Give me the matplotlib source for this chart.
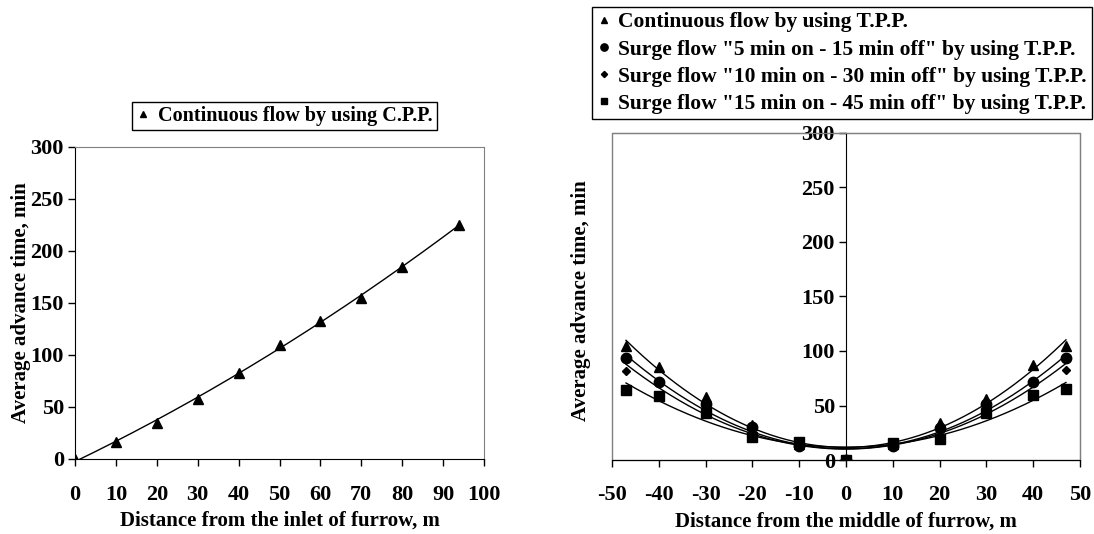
import numpy as np
import matplotlib
matplotlib.use("Agg")
import matplotlib.pyplot as plt
from matplotlib.patches import Rectangle
from matplotlib.lines import Line2D

plt.rcParams['font.family'] = ['Liberation Serif', 'DejaVu Serif']
plt.rcParams['font.weight'] = 'bold'
plt.rcParams['axes.unicode_minus'] = False

# ---- data: left chart (continuous flow, C.P.P.) ----
left_x = [0, 10, 20, 30, 40, 50, 60, 70, 80, 94]
left_y = [0, 16, 34.5, 58, 83, 110, 133, 155, 185, 225]
left_label = "Continuous flow by using C.P.P."

# ---- data: right chart (T.P.P.) ----
right_x = [-47, -40, -30, -20, -10, 0, 10, 20, 30, 40, 47]
cont_y = [105, 85, 58, 32, 15, 0, 15, 33.5, 56, 87, 105]
surge5_y = [93.5, 72, 51, 30.5, 12.5, 0, 12.5, 29.5, 51.5, 72, 93.5]
surge10_y = [82, 72, 44, 28, 12.5, 0, 12.5, 27, 46, 72, 83]
surge15_y = [64, 59, 43.5, 21, 16.5, 0, 16, 19.5, 43.5, 60, 65]
right_labels = [
    "Continuous flow by using T.P.P.",
    "Surge flow \"5 min on - 15 min off\" by using T.P.P.",
    "Surge flow \"10 min on - 30 min off\" by using T.P.P.",
    "Surge flow \"15 min on - 45 min off\" by using T.P.P.",
]
right_series = [cont_y, surge5_y, surge10_y, surge15_y]
right_markers = ['^', 'o', 'D', 's']
right_msizes = [7, 7.5, 4.5, 7]

W, H = 1094, 534
fig = plt.figure(figsize=(W / 100, H / 100), dpi=100)

def box(x0, y0, x1, y1):
    return [x0 / W, 1 - y1 / H, (x1 - x0) / W, (y1 - y0) / H]

FS = 16      # tick labels
LFS = 15     # axis titles
LEG_L = 14.5 # left legend
LEG_R = 15.5 # right legend

# ---------------- left chart ----------------
ax1 = fig.add_axes(box(75, 147, 484, 459))
lx = np.array(left_x, float)
ly = np.array(left_y, float)
c1 = np.polyfit(lx, ly, 2)
xx = np.linspace(lx.min(), lx.max(), 200)
ax1.plot(xx, np.polyval(c1, xx), color='black', lw=1)
ax1.plot(lx, ly, linestyle='none', marker='^', color='black', ms=7)
ax1.set_xlim(0, 100)
ax1.set_ylim(0, 300)
ax1.set_xticks(range(0, 101, 10))
ax1.set_yticks(range(0, 301, 50))
ax1.tick_params(direction='out', length=5, width=1, labelsize=FS, pad=14)
ax1.tick_params(axis='y', pad=3)
for s in ['top', 'right']:
    ax1.spines[s].set_color('#808080')
for s in ['left', 'bottom']:
    ax1.spines[s].set_color('black')
ax1.set_xlabel("Distance from the inlet of furrow, m", fontsize=LFS, fontweight='bold', labelpad=4)
ax1.set_ylabel("Average advance time, min", fontsize=LFS, fontweight='bold')
ax1.yaxis.set_label_coords((31 - 75) / 409, 0.5)
h1 = Line2D([], [], linestyle='none', marker='^', color='black', ms=5)
fig.legend([h1], [left_label], loc='upper left', bbox_to_anchor=(132 / W, 1 - 102 / H),
           frameon=True, fancybox=False, edgecolor='black', framealpha=1,
           prop={'size': LEG_L, 'weight': 'bold'}, handlelength=0.7, handletextpad=0.4,
           borderpad=0.2, borderaxespad=0)

# ---------------- right chart ----------------
ax2 = fig.add_axes(box(612, 133, 1080, 460))
rx = np.array(right_x, float)
xr = np.linspace(rx.min(), rx.max(), 300)
handles = []
for ys, m, ms in zip(right_series, right_markers, right_msizes):
    ya = np.array(ys, float)
    c = np.polyfit(rx, ya, 2)
    ax2.plot(xr, np.polyval(c, xr), color='black', lw=1)
    ax2.plot(rx, ya, linestyle='none', marker=m, color='black', ms=ms)
    handles.append(Line2D([], [], linestyle='none', marker=m, color='black', ms=ms * 0.7))
ax2.set_xlim(-50, 50)
ax2.set_ylim(0, 300)
ax2.set_xticks(range(-50, 51, 10))
ax2.set_yticks(range(0, 301, 50))
ax2.spines['left'].set_position(('data', 0))
ax2.spines['left'].set_color('black')
ax2.spines['bottom'].set_color('black')
for s in ['top', 'right']:
    ax2.spines[s].set_color('#808080')
ax2.add_patch(Rectangle((0, 0), 1, 1, transform=ax2.transAxes, fill=False,
                        edgecolor='#808080', lw=1, zorder=0.5, clip_on=False))
ax2.tick_params(direction='out', length=5, width=1, labelsize=FS)
ax2.tick_params(axis='x', pad=13)
ax2.tick_params(axis='y', pad=3)
ax2.set_xlabel("Distance from the middle of furrow, m", fontsize=LFS, fontweight='bold', labelpad=5)
fig.text(581 / W, 1 - 301 / H, "Average advance time, min", rotation=90, fontsize=LFS,
         fontweight='bold', ha='center', va='center')
fig.legend(handles, right_labels, loc='upper left', bbox_to_anchor=(592 / W, 1 - 7 / H),
           frameon=True, fancybox=False, edgecolor='black', framealpha=1,
           prop={'size': LEG_R, 'weight': 'bold'}, handlelength=0.6, handletextpad=0.35,
           borderpad=0.25, labelspacing=0.33, borderaxespad=0)

fig.savefig("out.png", dpi=100)
